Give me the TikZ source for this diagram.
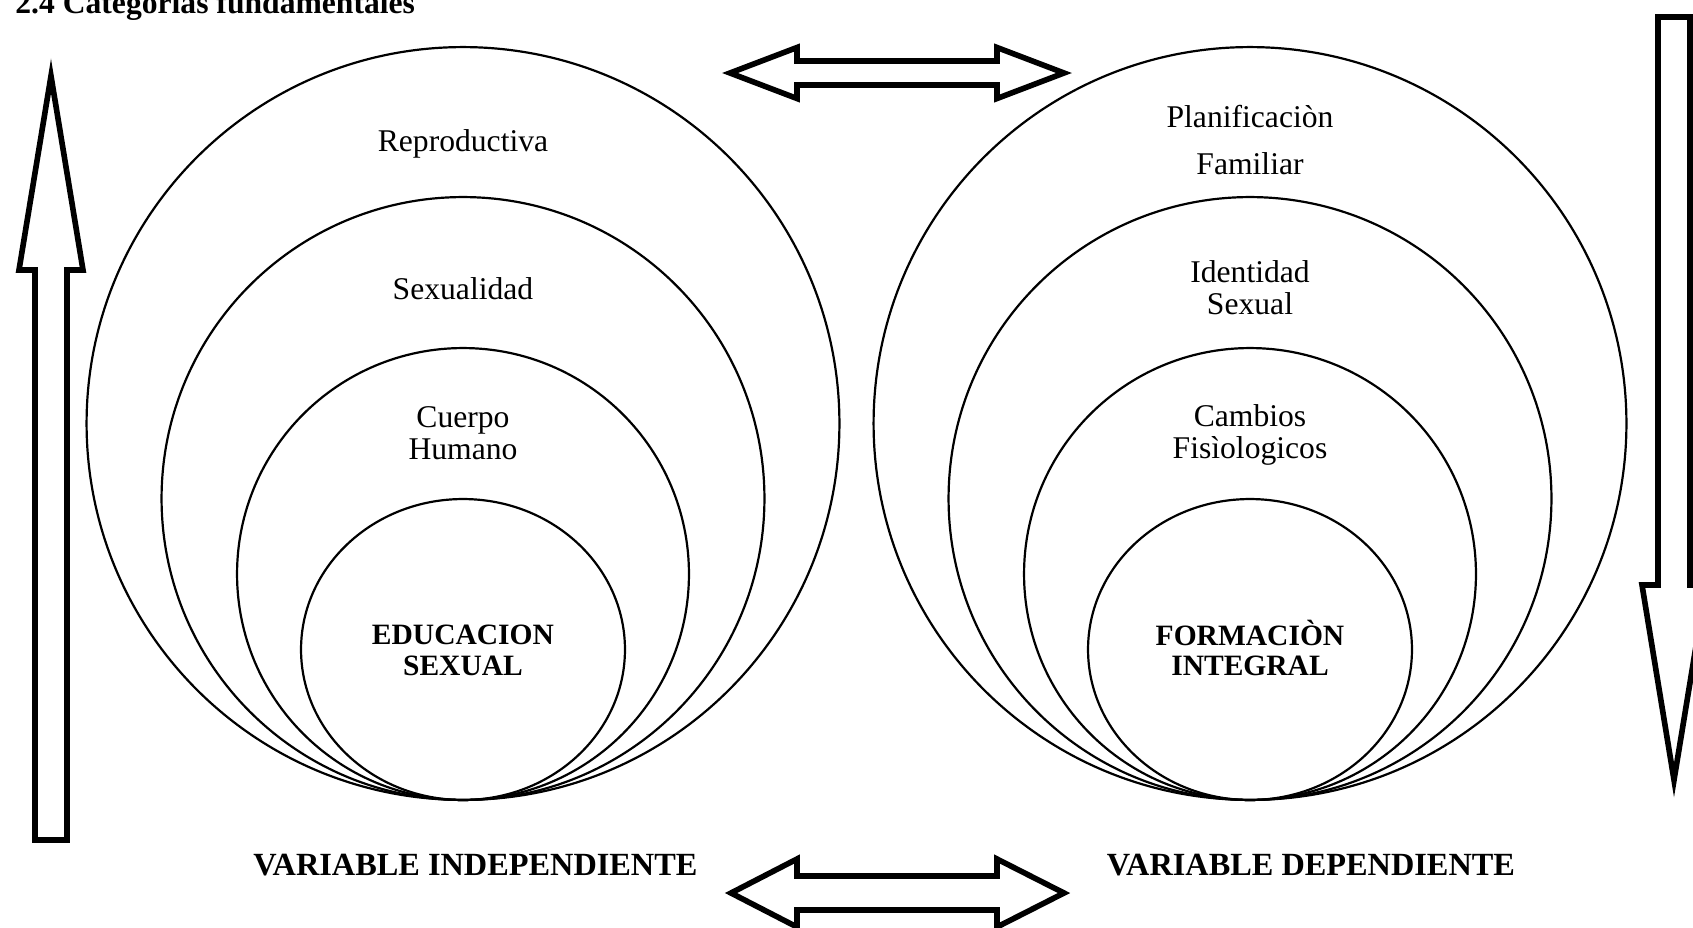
\documentclass[tikz,border=0pt]{standalone}
\usepackage{fontspec}
\setmainfont{Liberation Serif}

\tikzset{
  ring/.style={draw=black, line width=1.25pt},
  hollowarrow/.style={draw=black, fill=white, line width=3.2pt, line join=miter},
  lbl/.style={align=center, inner sep=0pt, font=\fontsize{18}{18.2}\selectfont},
  boldlbl/.style={align=center, inner sep=0pt, font=\fontsize{18}{18.2}\selectfont\bfseries},
  corelbl/.style={align=center, inner sep=0pt, font=\fontsize{16.8}{17.6}\selectfont\bfseries},
  varlbl/.style={inner sep=0pt, font=\fontsize{18.4}{18.4}\selectfont\bfseries},
}

\begin{document}
\begin{tikzpicture}[x=0.02cm,y=-0.02cm]
\useasboundingbox (0,0) rectangle (1693,927);
\clip (0,0) rectangle (1693,927);

\node[boldlbl, anchor=base west] (titulo) at (15,13) {2.4 Categorías fundamentales};

% independent variable:
\draw[ring] (463,423.5) circle (7.53cm);
\draw[ring] (463,498.5) circle (6.03cm);
\draw[ring] (463,574) circle (4.52cm);
\draw[ring] (463,649.5) ellipse (3.24cm and 3.01cm);
\node[lbl] (reproductiva) at (463,144) {Reproductiva};
\node[lbl] (sexualidad) at (463,289) {Sexualidad};
\node[lbl] (cuerpo) at (463,433) {Cuerpo\\Humano};
\node[corelbl] (educacion) at (463,650) {EDUCACION\\SEXUAL};

% dependent variable:
\draw[ring] (1250,423.5) circle (7.53cm);
\draw[ring] (1250,498.5) circle (6.03cm);
\draw[ring] (1250,574) circle (4.52cm);
\draw[ring] (1250,649.5) ellipse (3.24cm and 3.01cm);
\node[lbl] (planificacion) at (1250,140) {Planificaciòn\\[8.5pt]Familiar};
\node[lbl] (identidad) at (1250,288) {Identidad\\Sexual};
\node[lbl] (cambios) at (1250,435) {Cambios\\Fisìologicos};
\node[corelbl] (formacion) at (1250,648) {FORMACIÒN\\INTEGRAL};

\node[varlbl] (varind) at (475.5,865) {VARIABLE INDEPENDIENTE};
\node[varlbl] (vardep) at (1311,865) {VARIABLE DEPENDIENTE};

% block arrows:
\draw[hollowarrow] (35,840) -- (35,270) -- (19,270) -- (51,76) -- (83,270) -- (67,270) -- (67,840) -- cycle;
\draw[hollowarrow] (1658,17) -- (1658,585) -- (1642,585) -- (1674,780) -- (1706,585) -- (1690,585) -- (1690,17) -- cycle;
\draw[hollowarrow] (730,73) -- (797,47.5) -- (797,61) -- (997,61) -- (997,47.5) -- (1064,73) -- (997,98.5) -- (997,85) -- (797,85) -- (797,98.5) -- cycle;
\draw[hollowarrow] (731,893) -- (797,859) -- (797,876) -- (997,876) -- (997,859) -- (1064,893) -- (997,927) -- (997,910) -- (797,910) -- (797,927) -- cycle;

\end{tikzpicture}
\end{document}
